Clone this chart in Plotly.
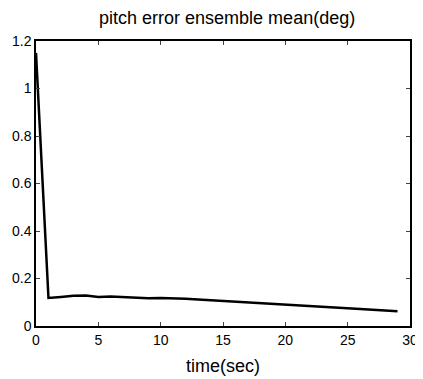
import plotly.graph_objects as go

time_sec = list(range(0, 30))
pitch_err = [1.15, 0.118, 0.122, 0.127, 0.128, 0.122, 0.124, 0.121, 0.118, 0.117,
             0.118, 0.118, 0.115, 0.112, 0.109, 0.106, 0.102, 0.099, 0.096, 0.096,
             0.093, 0.089, 0.086, 0.083, 0.081, 0.077, 0.072, 0.068, 0.066, 0.062]
x_ticks = [0, 5, 10, 15, 20, 25, 30]
y_ticks = [0, 0.2, 0.4, 0.6, 0.8, 1, 1.2]
y_tick_text = ["0", "0.2", "0.4", "0.6", "0.8", "1", "1.2"]

font = "Liberation Sans, Arial, sans-serif"

fig = go.Figure(go.Scatter(x=time_sec, y=pitch_err, mode="lines",
                           line=dict(color="black", width=2.5)))

# page body has an 8px margin, so the figure is sized to fit the 423x379 window
fig.update_layout(
    width=415, height=371,
    margin=dict(l=28, r=13, t=33, b=53, autoexpand=False),
    paper_bgcolor="white", plot_bgcolor="white",
    showlegend=False,
    font=dict(family=font, color="black", size=14),
    title=dict(text="pitch error ensemble mean(deg)", x=0.528, xanchor="center",
               y=0.973, yanchor="middle", font=dict(size=18, family=font)),
)
fig.update_xaxes(range=[0, 30], tickvals=x_ticks, ticks="inside", ticklen=4,
                 showgrid=False, zeroline=False, showline=True, linecolor="black",
                 linewidth=1.5, mirror="ticks", tickfont=dict(size=14), automargin=False,
                 title=dict(text="time(sec)", font=dict(size=18), standoff=13))
fig.update_yaxes(range=[0, 1.2], tickvals=y_ticks, ticktext=y_tick_text,
                 ticks="inside", ticklen=4, automargin=False,
                 showgrid=False, zeroline=False, showline=True, linecolor="black",
                 linewidth=1.5, mirror="ticks", tickfont=dict(size=14))

fig.write_html("out.html")
